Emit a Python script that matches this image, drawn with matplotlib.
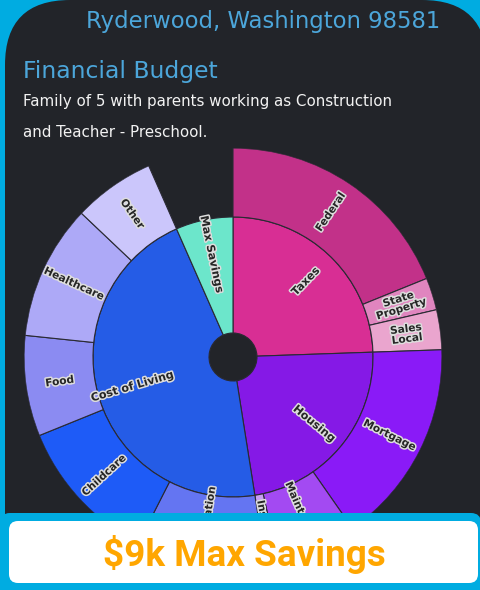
import matplotlib
matplotlib.use("Agg")
import matplotlib.pyplot as plt
import matplotlib.patheffects as pe
from matplotlib.patches import FancyBboxPatch
import numpy as np

# ---------------- data (thousands of dollars) ----------------
parent_labels = ["Taxes", "Housing", "Cost of Living", "Max Savings"]
parent_colors = ["#D82E94", "#8519E6", "#255CE6", "#6CE6CB"]

taxes_labels = ["Federal", "State\nProperty", "Sales\nLocal"]
taxes_values = [25.7, 3.4, 4.2]
taxes_colors = ["#C23189", "#E085BF", "#EAA5CE"]

housing_labels = ["Mortgage", "Maintenance", "Insurance"]
housing_values = [21.6, 8.5, 1.3]
housing_colors = ["#8A1AF7", "#A34AF2", "#C9A0F2"]

living_labels = ["Transportation", "Childcare", "Food", "Healthcare", "Other"]
living_values = [13.6, 15.5, 10.6, 14.2, 8.6]
living_colors = ["#6475F2", "#1E5BF7", "#8B8BF2", "#ADA9F7", "#CBC6FB"]

max_savings_value = 9.0

location = "Ryderwood, Washington 98581"
title = "Financial Budget"
subtitle_1 = "Family of 5 with parents working as Construction"
subtitle_2 = "and Teacher - Preschool."
banner = "$9k Max Savings"

# ---------------- figure ----------------
W, H = 481, 590
fig = plt.figure(figsize=(W / 100, H / 100), dpi=100)
fig.patch.set_facecolor("#00ACE1")
DARK = "#222429"

bg = fig.add_axes([0, 0, 1, 1])
bg.set_xlim(0, W)
bg.set_ylim(H, 0)
bg.axis("off")
bg.add_patch(FancyBboxPatch((5, 0), 482, 640, boxstyle="round,pad=0,rounding_size=65",
                            fc=DARK, ec="none"))

renderer = fig.canvas.get_renderer()


def fit_text(ax, x, y, s, width, **kw):
    t = ax.text(x, y, s, fontsize=10, **kw)
    w = t.get_window_extent(renderer).width
    t.set_fontsize(10 * width / w)
    return t


fit_text(bg, 440, 28.3, location, 354, ha="right", va="baseline",
         color="#4CA6DA", family="DejaVu Sans")
fit_text(bg, 23, 78, title, 195, ha="left", va="baseline",
         color="#4CA6DA", family="DejaVu Sans")
fit_text(bg, 23, 106, subtitle_1, 370, ha="left", va="baseline",
         color="#F2F2F2", family="DejaVu Sans")
fit_text(bg, 23, 136.7, subtitle_2, 184, ha="left", va="baseline",
         color="#F2F2F2", family="DejaVu Sans")

# ---------------- sunburst ----------------
cx, cy, R_out, R_mid, R_hole = 233, 357, 209, 140, 24
ax = fig.add_axes([(cx - R_out) / W, (H - cy - R_out) / H, 2 * R_out / W, 2 * R_out / H],
                  projection="polar")
ax.set_theta_zero_location("N")
ax.set_theta_direction(-1)
ax.set_ylim(0, R_out)
ax.set_facecolor("none")
ax.axis("off")

children = [(taxes_labels, taxes_values, taxes_colors),
            (housing_labels, housing_values, housing_colors),
            (living_labels, living_values, living_colors),
            ([], [], [])]
parent_values = [sum(taxes_values), sum(housing_values), sum(living_values), max_savings_value]
total = sum(parent_values)
scale = 2 * np.pi / total

EDGE = "#2A2A33"
label_effects = [pe.withStroke(linewidth=2.2, foreground="#DDDDDD")]


def rot_for(theta):
    c = np.degrees(theta) % 360
    return 90 - c if c <= 180 else 270 - c


def put_label(theta, r, s, fs):
    ax.text(theta, r, s, rotation=rot_for(theta), rotation_mode="anchor",
            ha="center", va="center", fontsize=fs, fontweight="bold",
            color="#262626", family="DejaVu Sans", path_effects=label_effects,
            linespacing=1.0, zorder=5)


start = 0.0
for p_lab, p_val, p_col, (c_labs, c_vals, c_cols) in zip(parent_labels, parent_values,
                                                         parent_colors, children):
    width = p_val * scale
    ax.bar(start, R_mid - R_hole, width=width, bottom=R_hole, align="edge",
           color=p_col, edgecolor=EDGE, linewidth=0.8)
    put_label(start + width / 2, 105, p_lab, 8)
    s2 = start
    for lab, val, col in zip(c_labs, c_vals, c_cols):
        w2 = val * scale
        ax.bar(s2, R_out - R_mid, width=w2, bottom=R_mid, align="edge",
               color=col, edgecolor=EDGE, linewidth=0.8)
        put_label(s2 + w2 / 2, 175, lab, 7.6)
        s2 += w2
    start += width

# ---------------- bottom banner ----------------
top = fig.add_axes([0, 0, 1, 1])
top.set_xlim(0, W)
top.set_ylim(H, 0)
top.axis("off")
top.patch.set_alpha(0)
top.add_patch(FancyBboxPatch((0, 513), 481, 100, boxstyle="round,pad=0,rounding_size=10",
                             fc="#00ACE1", ec="none"))
top.add_patch(FancyBboxPatch((9, 521), 469, 62, boxstyle="round,pad=0,rounding_size=9",
                             fc="white", ec="none"))
fit_text(top, 244, 565.7, banner, 284, ha="center", va="baseline",
         color="#FFA600", family="Roboto", fontweight="bold")

fig.savefig("out.png", dpi=100, facecolor=fig.get_facecolor())
